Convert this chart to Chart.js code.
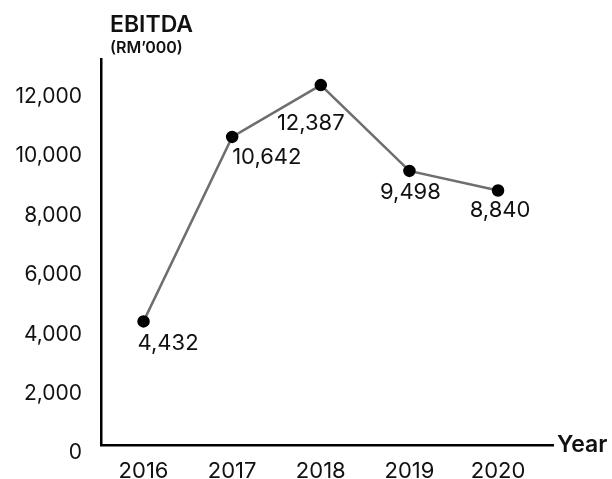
<!DOCTYPE html>
<html>
<head>
<meta charset="utf-8">
<script src="https://cdn.jsdelivr.net/npm/chart.js@4"></script>
<style>
  html, body { margin: 0; padding: 0; background: #fff; }
  #wrap { width: 612px; height: 479px; }
</style>
</head>
<body>
<div id="wrap"><canvas id="ebitdaChart" width="612" height="479"></canvas></div>
<script>
// EBITDA chart data
const years = [2016, 2017, 2018, 2019, 2020];
const ebitda = [4432, 10642, 12387, 9498, 8840];
const yTicks = [0, 2000, 4000, 6000, 8000, 10000, 12000];

// where each value label sits relative to its point (dx, dy, align)
const labelOffsets = [
    [-6, 22, 'left'],
    [0, 20, 'left'],
    [-10, 38, 'center'],
    [1, 21, 'center'],
    [2, 20, 'center']
];

const FONT = 'Inter, Lato, "DejaVu Sans", sans-serif';

// Draw titles and value labels
const annotate = {
    id: 'annotate',
    afterDatasetsDraw(chart) {
        const ctx = chart.ctx;
        const meta = chart.getDatasetMeta(0);
        ctx.save();
        ctx.fillStyle = '#111';
        ctx.textBaseline = 'middle';

        ctx.textAlign = 'left';
        ctx.font = '600 23px ' + FONT;
        ctx.fillText('EBITDA', 110, 25);
        ctx.font = '600 16px ' + FONT;
        ctx.fillText('(RM\u2019000)', 110, 48);

        ctx.font = '600 23px ' + FONT;
        ctx.fillText('Year', 557, chart.chartArea.bottom);

        ctx.font = '22px ' + FONT;
        meta.data.forEach((pt, i) => {
            const [dx, dy, align] = labelOffsets[i];
            ctx.textAlign = align;
            ctx.fillText(ebitda[i].toLocaleString('en-US'), pt.x + dx, pt.y + dy);
        });
        ctx.restore();
    }
};

new Chart(document.getElementById('ebitdaChart'), {
    type: 'line',
    data: {
        datasets: [{
            data: years.map((y, i) => ({ x: y, y: ebitda[i] })),
            borderColor: '#6e6e6e',
            borderWidth: 2.5,
            pointBackgroundColor: '#000',
            pointBorderColor: '#000',
            pointRadius: 5,
            tension: 0
        }]
    },
    options: {
        responsive: false,
        animation: false,
        layout: { padding: { top: 59, right: 59, left: 0, bottom: 0 } },
        plugins: {
            legend: { display: false },
            tooltip: { enabled: false }
        },
        scales: {
            x: {
                type: 'linear',
                min: 2015.52,
                max: 2020.62,
                grid: { display: false, drawTicks: false },
                border: { display: true, color: '#000', width: 2.5 },
                afterBuildTicks: axis => { axis.ticks = years.map(v => ({ value: v })); },
                afterFit: axis => { axis.height = 34; },
                ticks: {
                    padding: 13,
                    color: '#111',
                    font: { family: FONT, size: 22 },
                    callback: v => String(v)
                }
            },
            y: {
                min: 270,
                max: 13266,
                grid: { display: false, drawTicks: false },
                border: { display: true, color: '#000', width: 2.5 },
                afterBuildTicks: axis => { axis.ticks = yTicks.map(v => ({ value: v })); },
                afterFit: axis => { axis.width = 101; },
                ticks: {
                    padding: 19,
                    color: '#111',
                    font: { family: FONT, size: 21 },
                    callback: v => v.toLocaleString('en-US')
                }
            }
        }
    },
    plugins: [annotate]
});
</script>
</body>
</html>
